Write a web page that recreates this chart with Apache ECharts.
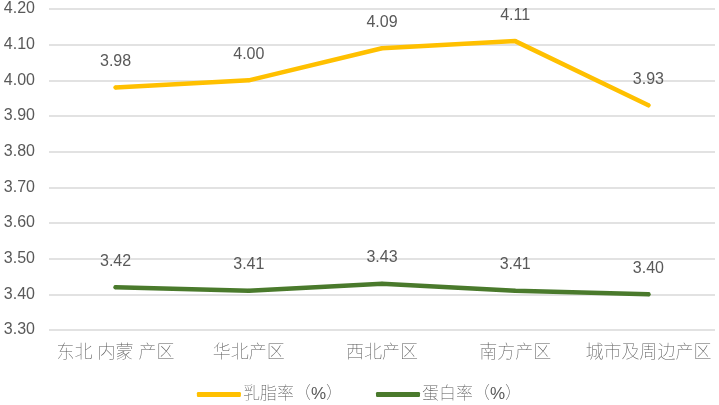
<!DOCTYPE html>
<html><head><meta charset="utf-8">
<script src="https://cdn.jsdelivr.net/npm/echarts@6/dist/echarts.min.js"></script>
<style>html,body{margin:0;padding:0;background:#fff}#c{width:719px;height:405px}</style>
</head><body><div id="c"></div>
<script>
var categories = ['东北 内蒙 产区', '华北产区', '西北产区', '南方产区', '城市及周边产区'];
var fatRate = [3.98, 4.00, 4.09, 4.11, 3.93];
var proteinRate = [3.42, 3.41, 3.43, 3.41, 3.40];
var seriesNames = ['乳脂率（%）', '蛋白率（%）'];
var FONT = '"Liberation Sans","Noto Sans CJK SC",sans-serif';
var chart = echarts.init(document.getElementById('c'), null, {renderer: 'canvas'});
function mk(name, data, color) {
  return {
    name: name, type: 'line', data: data, symbol: 'circle', symbolSize: 4, showSymbol: true,
    lineStyle: {width: 4.5, color: color, cap: 'round'},
    itemStyle: {color: color},
    label: {show: true, position: 'top', distance: 16, color: '#595959', fontSize: 16, fontFamily: FONT,
      formatter: function(p){ return p.value.toFixed(2); }}
  };
}
chart.setOption({
  animation: false,
  grid: {left: 49, right: 4, top: 9, bottom: 75, containLabel: false},
  legend: {bottom: -3, left: 'center', itemWidth: 44, itemHeight: 5, itemGap: 33,
    icon: 'roundRect',
    textStyle: {color: '#595959', fontSize: 17, fontFamily: FONT, fontWeight: 'lighter', padding: [0,0,0,-3]}, data: seriesNames},
  xAxis: {type: 'category', data: categories, boundaryGap: true,
    axisLine: {show: false}, axisTick: {show: false},
    axisLabel: {color: '#595959', fontSize: 18, fontFamily: FONT, fontWeight: 'lighter', margin: 14, interval: 0}},
  yAxis: {type: 'value', min: 3.3, max: 4.2, interval: 0.1,
    axisLine: {show: false}, axisTick: {show: false},
    axisLabel: {color: '#595959', fontSize: 16, fontFamily: FONT, margin: 14,
      formatter: function(v){ return v.toFixed(2); }},
    splitLine: {lineStyle: {color: '#d9d9d9', width: 1.5}}},
  series: [mk(seriesNames[0], fatRate, '#FFC000'), mk(seriesNames[1], proteinRate, '#4A7A2C')]
});
</script></body></html>
